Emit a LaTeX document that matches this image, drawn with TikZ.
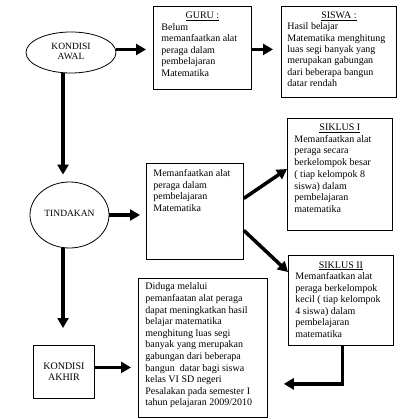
\documentclass[tikz,border=0pt]{standalone}
\usepackage{fontspec}
\setmainfont{Liberation Serif}
\usetikzlibrary{arrows.meta,shapes.geometric}
\tikzset{
  box/.style={draw, line width=0.8pt, anchor=north west},
  oval/.style={draw, line width=0.8pt, ellipse, inner sep=0pt, font=\fontsize{9.5}{10}\selectfont},
  arr/.style={line width=3.5pt, -{Triangle[length=10pt,width=11pt]}}
}
\newcommand{\boxpar}[5]{% width, height, fontsize, baselineskip, content
  \parbox[t][#2][t]{#1}{\fontsize{#3}{#4}\selectfont #5}}
\begin{document}
\begin{tikzpicture}[x=1pt,y=-1pt]
\useasboundingbox (0,0) rectangle (400,419);
% ellipses
\node[oval, minimum width=90pt, minimum height=41pt] (awal) at (71,52.5) {\raisebox{4pt}{\begin{tabular}{@{}c@{}}KONDISI\\AWAL\end{tabular}}};
\node[oval, minimum width=79pt, minimum height=66pt] (tind) at (69.5,215) {\raisebox{3pt}{TINDAKAN}};
% boxes
\node[box, inner xsep=8pt, inner ysep=5.5pt] (guru) at (153,6) {\boxpar{82pt}{72pt}{10}{11.6}{%
  \centering\underline{GURU :}\par\raggedright
  Belum\\memanfaatkan alat\\peraga dalam\\pembelajaran\\Matematika}};
\node[box, inner xsep=6pt, inner ysep=5.5pt] (siswa) at (281,6) {\boxpar{103pt}{80pt}{10}{11.3}{%
  \centering\underline{SISWA :}\par\raggedright
  Hasil belajar\\Matematika menghitung\\luas segi banyak yang\\merupakan gabungan\\dari beberapa bangun\\datar rendah}};
\node[box, inner xsep=7pt, inner ysep=5.5pt] (s1) at (287,118) {\boxpar{91pt}{101pt}{10}{11.7}{%
  \centering\underline{SIKLUS I}\par\raggedright
  Memanfaatkan alat\\peraga secara\\berkelompok besar\\( tiap kelompok 8\\siswa) dalam\\pembelajaran\\matematika}};
\node[box, inner xsep=7pt, inner ysep=6pt] (mid) at (146,163) {\boxpar{83pt}{84pt}{10}{11.7}{%
  \raggedright Memanfaatkan alat\\peraga dalam\\pembelajaran\\Matematika}};
\node[box, inner xsep=7pt, inner ysep=6pt] (s2) at (288,255) {\boxpar{91pt}{78pt}{10}{11.5}{%
  \centering\underline{SIKLUS II}\par\raggedright
  Memanfaatkan alat\\peraga berkelompok\\kecil ( tiap kelompok\\4 siswa) dalam\\pembelajaran\\matematika}};
\node[box, inner xsep=7pt, inner ysep=5pt] (final) at (138,277.5) {\boxpar{115pt}{129pt}{10}{11.6}{%
  \raggedright Diduga melalui\\pemanfaatan alat peraga\\dapat meningkatkan hasil\\belajar matematika\\menghitung luas segi\\banyak yang merupakan\\gabungan dari beberapa\\bangun\ \ datar bagi siswa\\kelas VI SD negeri\\Pesalakan pada semester I\\tahun pelajaran 2009/2010}};
\node[box, minimum width=61pt, minimum height=53pt, inner sep=0pt, align=center, font=\fontsize{10}{11}\selectfont] (akhir) at (33,345) {KONDISI\\AKHIR};
% connectors
\coordinate (vx) at (63,0);
\draw[arr, shorten >=7pt] ([yshift=3pt]awal.east) -- ([yshift=3pt]guru.west |- awal.east);
\draw[arr, shorten >=8pt] ([yshift=-1.5pt]guru.east) -- ([yshift=-1.5pt]siswa.west |- guru.east);
\draw[arr, shorten >=7pt] (vx |- awal.south) -- (vx |- tind.north);
\draw[arr, shorten >=17pt] (vx |- tind.south) -- (vx |- akhir.north);
\draw[arr, shorten >=6pt] (tind.east) -- (mid.west |- tind.east);
\draw[arr] ([yshift=13pt]mid.east) -- ([yshift=-51pt]s1.north west);
\draw[arr] ([yshift=-19pt]mid.east) -- ([yshift=-17pt]s2.north west);
\draw[arr, shorten >=16pt] ([xshift=1.5pt]s2.south) |- ([yshift=-36.5pt]final.east);
\draw[arr, shorten >=7pt] ([yshift=4.5pt]akhir.east) -- ([yshift=4.5pt]final.west |- akhir.east);
\end{tikzpicture}
\end{document}
